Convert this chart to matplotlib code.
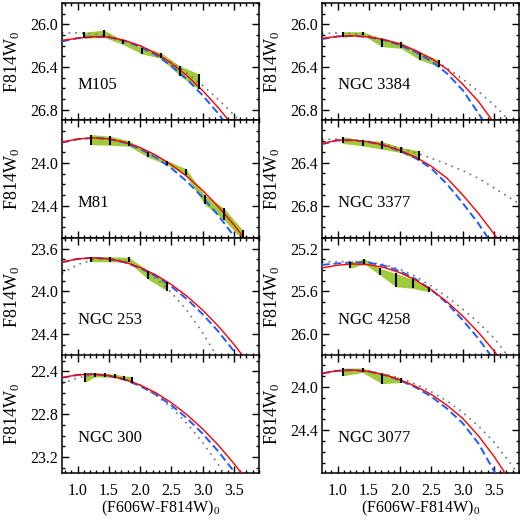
import matplotlib
matplotlib.use('Agg')
import matplotlib.pyplot as plt
from matplotlib.ticker import MultipleLocator, FormatStrFormatter

plt.rcParams['font.family'] = ['Liberation Serif', 'DejaVu Serif']
plt.rcParams['mathtext.fontset'] = 'custom'
plt.rcParams['mathtext.rm'] = 'Liberation Serif'
plt.rcParams['mathtext.it'] = 'Liberation Serif:italic'

# colour grid the model curves were read at
color_x = [0.75, 1.0, 1.25, 1.5, 1.75, 2.0, 2.25, 2.5, 2.75, 3.0, 3.25, 3.5, 3.75, 4.0]

# --- M105 ---
m105_red = [26.15, 26.13, 26.115, 26.12, 26.15, 26.20, 26.27, 26.365, 26.48, 26.62, 26.78, 26.96]
m105_blue = [26.16, 26.13, 26.115, 26.12, 26.155, 26.21, 26.285, 26.39, 26.515, 26.665, 26.835, 27.03]
m105_gray = [26.08, 26.08, 26.088, 26.11, 26.15, 26.203, 26.27, 26.357, 26.457, 26.572, 26.703, 26.848, 27.0]
m105_x = [1.11, 1.42, 1.72, 2.03, 2.33, 2.64, 2.94]
m105_up = [26.075, 26.053, 26.146, 26.218, 26.265, 26.39, 26.465]
m105_lo = [26.131, 26.121, 26.187, 26.277, 26.318, 26.484, 26.608]

# --- NGC 3384 ---
n3384_red = [26.132, 26.113, 26.108, 26.118, 26.143, 26.185, 26.245, 26.32, 26.42, 26.56, 26.72, 26.92]
n3384_blue = [26.138, 26.114, 26.108, 26.12, 26.148, 26.195, 26.26, 26.345, 26.46, 26.615, 26.83, 27.06]
n3384_gray = [26.085, 26.08, 26.087, 26.107, 26.141, 26.188, 26.249, 26.323, 26.411, 26.512, 26.627, 26.755, 26.9, 27.06]
n3384_x = [1.08, 1.40, 1.71, 2.01, 2.32, 2.62]
n3384_up = [26.069, 26.069, 26.137, 26.168, 26.265, 26.334]
n3384_lo = [26.121, 26.10, 26.209, 26.224, 26.334, 26.396]

# --- M81 ---
m81_red = [23.807, 23.777, 23.767, 23.777, 23.807, 23.857, 23.927, 24.017, 24.127, 24.257, 24.407, 24.577, 24.767]
m81_blue = [23.812, 23.78, 23.767, 23.778, 23.812, 23.869, 23.948, 24.05, 24.174, 24.321, 24.49, 24.682, 24.9]
m81_gray = []
m81_x = [1.21, 1.52, 1.82, 2.13, 2.43, 2.73, 3.03, 3.34, 3.64]
m81_up = [23.736, 23.752, 23.792, 23.90, 23.979, 24.054, 24.298, 24.422, 24.625]
m81_lo = [23.83, 23.836, 23.845, 23.948, 24.017, 24.117, 24.385, 24.532, 24.72]

# --- NGC 3377 ---
n3377_red = [26.225, 26.192, 26.193, 26.208, 26.24, 26.288, 26.35, 26.435, 26.545, 26.7, 26.87, 27.06, 27.27]
n3377_blue = [26.23, 26.195, 26.193, 26.21, 26.243, 26.293, 26.36, 26.455, 26.6, 26.775, 26.965, 27.18]
n3377_gray = [26.185, 26.182, 26.19, 26.205, 26.23, 26.265, 26.31, 26.36, 26.415, 26.475, 26.545, 26.635, 26.725, 26.82]
n3377_x = [1.08, 1.40, 1.71, 2.01, 2.31]
n3377_up = [26.161, 26.192, 26.204, 26.260, 26.292]
n3377_lo = [26.223, 26.245, 26.276, 26.307, 26.379]

# --- NGC 253 ---
n253_red = [23.725, 23.695, 23.685, 23.695, 23.725, 23.775, 23.845, 23.935, 24.045, 24.175, 24.325, 24.495, 24.685]
n253_blue = [23.728, 23.696, 23.685, 23.696, 23.728, 23.782, 23.857, 23.954, 24.073, 24.213, 24.375, 24.559, 24.764]
n253_gray = [23.832, 23.749, 23.702, 23.691, 23.716, 23.778, 23.876, 24.01, 24.18, 24.387, 24.63]
n253_x = [1.21, 1.52, 1.82, 2.13, 2.43]
n253_up = [23.675, 23.675, 23.681, 23.806, 23.909]
n253_lo = [23.722, 23.722, 23.728, 23.887, 23.993]

# --- NGC 4258 ---
n4258_red = [25.38, 25.355, 25.343, 25.35, 25.377, 25.425, 25.495, 25.585, 25.697, 25.83, 25.982, 26.155, 26.35]
n4258_blue = [25.352, 25.338, 25.328, 25.33, 25.36, 25.41, 25.485, 25.585, 25.71, 25.868, 26.04, 26.24]
n4258_gray = [25.325, 25.322, 25.32, 25.327, 25.35, 25.393, 25.46, 25.55, 25.65, 25.765, 25.89, 26.035, 26.225]
n4258_x = [1.20, 1.43, 1.68, 1.93, 2.20, 2.46]
n4258_up = [25.328, 25.294, 25.384, 25.431, 25.487, 25.562]
n4258_lo = [25.384, 25.343, 25.446, 25.556, 25.571, 25.603]

# --- NGC 300 ---
n300_red = [22.457, 22.431, 22.425, 22.439, 22.473, 22.526, 22.599, 22.692, 22.805, 22.937, 23.089, 23.261, 23.452]
n300_blue = [22.46, 22.432, 22.425, 22.44, 22.477, 22.535, 22.615, 22.716, 22.838, 22.982, 23.148, 23.335, 23.543]
n300_gray = [22.514, 22.459, 22.432, 22.435, 22.467, 22.528, 22.619, 22.738, 22.887, 23.064, 23.271, 23.507]
n300_x = [1.12, 1.28, 1.44, 1.60, 1.75, 1.87]
n300_up = [22.411, 22.411, 22.417, 22.426, 22.442, 22.449]
n300_lo = [22.501, 22.449, 22.454, 22.458, 22.479, 22.51]

# --- NGC 3077 ---
n3077_red = [23.875, 23.851, 23.845, 23.857, 23.887, 23.935, 23.995, 24.07, 24.17, 24.29, 24.45, 24.64, 24.86]
n3077_blue = [23.875, 23.851, 23.845, 23.858, 23.89, 23.94, 24.005, 24.09, 24.2, 24.335, 24.52, 24.775, 25.0]
n3077_gray = [23.88, 23.851, 23.845, 23.855, 23.88, 23.92, 23.975, 24.045, 24.13, 24.235, 24.36, 24.51, 24.695, 24.9]
n3077_x = [1.08, 1.40, 1.71, 2.01]
n3077_up = [23.826, 23.826, 23.883, 23.914]
n3077_lo = [23.898, 23.867, 23.97, 23.96]

names = ['M105', 'NGC 3384', 'M81', 'NGC 3377', 'NGC 253', 'NGC 4258', 'NGC 300', 'NGC 3077']
ylims = [(26.9, 25.8), (26.9, 25.8), (24.7, 23.605), (27.1, 26.01),
         (24.6, 23.5), (26.2, 25.1), (23.35, 22.25), (24.795, 23.71)]

panels = [
    (m105_red, m105_blue, m105_gray, m105_x, m105_up, m105_lo),
    (n3384_red, n3384_blue, n3384_gray, n3384_x, n3384_up, n3384_lo),
    (m81_red, m81_blue, m81_gray, m81_x, m81_up, m81_lo),
    (n3377_red, n3377_blue, n3377_gray, n3377_x, n3377_up, n3377_lo),
    (n253_red, n253_blue, n253_gray, n253_x, n253_up, n253_lo),
    (n4258_red, n4258_blue, n4258_gray, n4258_x, n4258_up, n4258_lo),
    (n300_red, n300_blue, n300_gray, n300_x, n300_up, n300_lo),
    (n3077_red, n3077_blue, n3077_gray, n3077_x, n3077_up, n3077_lo),
]

fig = plt.figure(figsize=(5.2, 5.2), dpi=100)

col_left = [0.119, 0.619]
width = 0.379
height = 0.226
row_bottom = [0.7683, 0.5423, 0.3163, 0.0904]

for i, (red, blue, gray, bx, up, lo) in enumerate(panels):
    row, col = i // 2, i % 2
    ax = fig.add_axes([col_left[col], row_bottom[row], width, height])

    ax.fill_between(bx, up, lo, color='#9fcb3a', linewidth=0, zorder=1)
    if gray:
        ax.plot(color_x[:len(gray)], gray, color='#707070', lw=1.2,
                linestyle=(0, (1, 3)), zorder=2)
    ax.plot(color_x[:len(blue)], blue, color='#1f5cff', lw=1.4,
            linestyle=(0, (4, 2)), zorder=3)
    ax.plot(color_x[:len(red)], red, color='red', lw=1.0, zorder=4)
    ax.vlines(bx, up, lo, color='black', lw=1.5, zorder=5)

    ax.set_xlim(0.75, 3.9)
    ax.set_ylim(*ylims[i])
    ax.xaxis.set_major_locator(MultipleLocator(0.5))
    ax.xaxis.set_minor_locator(MultipleLocator(0.1))
    ax.yaxis.set_major_locator(MultipleLocator(0.4))
    ax.yaxis.set_minor_locator(MultipleLocator(0.1))
    ax.yaxis.set_major_formatter(FormatStrFormatter('%.1f'))
    ax.xaxis.set_major_formatter(FormatStrFormatter('%.1f'))
    ax.tick_params(which='both', direction='in', top=True, right=True, width=1)
    ax.tick_params(which='major', length=5, labelsize=11.5)
    ax.tick_params(which='minor', length=2.5)
    ax.tick_params(axis='x', pad=7)
    ax.tick_params(axis='y', pad=3)
    for spine in ax.spines.values():
        spine.set_linewidth(1.1)

    if row < 3:
        ax.tick_params(axis='x', labelbottom=False)
    else:
        ax.set_xlabel('(F606W-F814W)$_0$', fontsize=11.5, labelpad=0)

    ax.set_ylabel('F814W$_0$', fontsize=13)
    ax.yaxis.set_label_coords(-0.2, 0.5)

    ax.text(0.08, 0.30, names[i], transform=ax.transAxes, fontsize=12,
            va='center', ha='left')

fig.savefig('out.png', dpi=100)
